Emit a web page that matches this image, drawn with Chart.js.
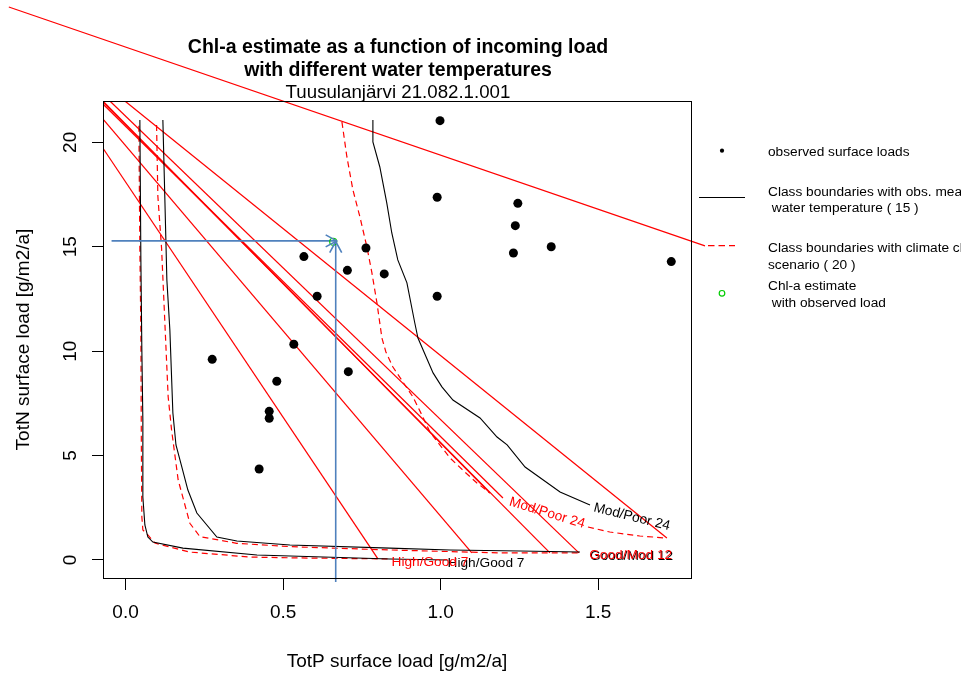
<!DOCTYPE html>
<html><head><meta charset="utf-8">
<script src="https://cdn.jsdelivr.net/npm/chart.js@4.4.1/dist/chart.umd.min.js"></script>
<style>html,body{margin:0;padding:0;background:#fff;}canvas{display:block;}</style>
</head><body>
<canvas id="c" width="961" height="678"></canvas>
<script>
const FONT = '"Liberation Sans", Arial, sans-serif';

// ---- texts ----
const titleLines = ['Chl-a estimate as a function of incoming load', 'with different water temperatures'];
const subtitle = 'Tuusulanjärvi 21.082.1.001';
const xTitle = 'TotP surface load [g/m2/a]';
const yTitle = 'TotN surface load [g/m2/a]';

// ---- axes ----
const xTicks = [0, 0.5, 1, 1.5];
const xTickLabels = ['0.0', '0.5', '1.0', '1.5'];
const yTicks = [0, 5, 10, 15, 20];
const yTickLabels = ['0', '5', '10', '15', '20'];
const xRange = [-0.0716, 1.7946];
const yRange = [-0.862, 21.98];

// ---- observed surface loads ----
const obsP = [0.998, 0.989, 1.245, 1.237, 1.231, 1.351, 1.732, 0.989, 0.763, 0.566, 0.704, 0.821, 0.608, 0.275, 0.534, 0.707, 0.480, 0.456, 0.456, 0.424];
const obsN = [21.04, 17.37, 17.08, 16.01, 14.70, 15.00, 14.29, 12.63, 14.94, 14.53, 13.87, 13.70, 12.63, 9.61, 10.33, 9.02, 8.56, 7.12, 6.79, 4.36];

// ---- Chl-a estimate with observed load ----
const estP = [0.659];
const estN = [15.24];

// ---- class boundaries, observed mean water temperature (15) ----
const hgObsP = [0.0454, 0.0486, 0.0517, 0.0549, 0.0549, 0.0613, 0.0708, 0.0867, 0.182, 0.417, 0.839, 1.020];
const hgObsN = [21.07, 14.37, 10.06, 6.70, 3.02, 1.68, 1.10, 0.86, 0.57, 0.24, 0.05, 0.00];
const gmObsP = [0.1184, 0.1248, 0.1311, 0.1406, 0.1502, 0.160, 0.1787, 0.1978, 0.2263, 0.2898, 0.3533, 0.5216, 0.839, 1.030, 1.252, 1.442];
const gmObsN = [21.07, 17.24, 13.41, 11.02, 7.04, 5.51, 4.45, 3.35, 2.25, 1.10, 0.91, 0.72, 0.57, 0.48, 0.43, 0.38];
const mpObsP = [0.785, 0.785, 0.807, 0.829, 0.845, 0.864, 0.893, 0.918, 0.928, 0.976, 1.004, 1.039, 1.125, 1.179, 1.211, 1.268, 1.379, 1.474];
const mpObsN = [21.07, 20.02, 18.82, 17.10, 15.66, 14.37, 13.27, 11.35, 10.63, 8.96, 8.29, 7.66, 6.80, 5.89, 5.51, 4.45, 3.26, 2.63];

// ---- class boundaries, climate change scenario (20) ----
const hgScenP = [0.0422, 0.0454, 0.0486, 0.0502, 0.0517, 0.0549, 0.0708, 0.0930, 0.204, 0.395, 0.544, 0.833];
const hgScenN = [20.79, 14.85, 11.02, 5.27, 2.06, 1.44, 1.20, 0.81, 0.38, 0.14, 0.10, 0.05];
const gmScenP = [0.0984, 0.1025, 0.1143, 0.1248, 0.1352, 0.1460, 0.1670, 0.2041, 0.2359, 0.3524, 0.5216, 0.839, 1.188, 1.436];
const gmScenN = [20.83, 17.43, 14.93, 11.34, 7.82, 6.23, 3.83, 1.76, 1.12, 0.80, 0.64, 0.48, 0.34, 0.34];
const mpScenP = [0.6867, 0.7025, 0.7216, 0.7438, 0.7660, 0.7819, 0.7978, 0.8137, 0.8263, 0.8486, 0.8867, 0.9121, 0.9406, 0.9660, 1.0295, 1.0771, 1.1152, 1.1565];
const mpScenN = [20.98, 19.30, 17.72, 16.43, 14.99, 13.75, 12.31, 10.63, 9.96, 9.24, 8.38, 7.81, 6.94, 6.13, 4.89, 4.21, 3.69, 3.21];
const mpScenTailP = [1.4676, 1.537, 1.632, 1.718];
const mpScenTailN = [1.58, 1.34, 1.15, 1.05];

// ---- contour labels ----
const classLabels = ['High/Good 7', 'Good/Mod 12', 'Mod/Poor 24'];
const lblObsP = [1.144, 1.606, 1.607];
const lblObsN = [-0.144, 0.17, 2.06];
const lblObsAngle = [0, 0, 14];
const lblScenP = [0.966, 1.603, 1.338];
const lblScenN = [-0.096, 0.22, 2.25];
const lblScenAngle = [0, 0, 17];

// ---- straight red lines (start/end) ----
const redLineP = [[-0.0721, 1.1565], [-0.0721, 1.1978], [-0.0721, 1.347], [-0.0498, 1.439], [-0.0022, 1.718], [-0.0721, 1.099], [-0.0721, 0.801]];
const redLineN = [[21.98, 3.21], [21.84, 2.97], [21.93, 0.34], [21.98, 0.34], [21.98, 1.05], [21.12, 0.34], [19.73, 0.05]];
const longLineP = [-0.3705, 1.839];
const longLineN = [26.48, 15.04];

// ---- blue arrows (reading the estimate) ----
const arrowHP = [-0.0444, 0.670];
const arrowHN = [15.28, 15.28];
const arrowVP = [0.667, 0.667];
const arrowVN = [-1.05, 15.25];

// ---- legend ----
const legendTexts = [
  ['observed surface loads'],
  ['Class boundaries with obs. mean', ' water temperature ( 15 )'],
  ['Class boundaries with climate change', 'scenario ( 20 )'],
  ['Chl-a estimate', ' with observed load']
];

const RED = '#ff0000', BLUE = '#4f81bd', GREEN = '#00cc00';
const mk = (xs, ys) => xs.map((v, i) => ({x: v, y: ys[i]}));
const lineDs = (xs, ys, color, dash, width, extra) => Object.assign({
  data: mk(xs, ys), showLine: true, borderColor: color, backgroundColor: color,
  borderWidth: width, borderDash: dash, pointRadius: 0, pointHoverRadius: 0,
  tension: 0, fill: false
}, extra || {});

const datasets = [
  {data: mk(estP, estN), pointRadius: 3.5, pointHoverRadius: 3.5, pointBackgroundColor: 'rgba(0,0,0,0)', pointBorderColor: GREEN, pointBorderWidth: 1.2, showLine: false},
  {data: mk(obsP, obsN), pointRadius: 4.5, pointHoverRadius: 4.5, pointBackgroundColor: '#000', pointBorderColor: '#000', pointBorderWidth: 0, showLine: false},
  lineDs(arrowHP, arrowHN, BLUE, [], 1.6, {clip: false}),
  lineDs(arrowVP, arrowVN, BLUE, [], 1.6, {clip: false}),
  lineDs(hgObsP, hgObsN, '#000', [], 1.1),
  lineDs(gmObsP, gmObsN, '#000', [], 1.1),
  lineDs(mpObsP, mpObsN, '#000', [], 1.1),
  lineDs(hgScenP, hgScenN, RED, [6, 4], 1.2),
  lineDs(gmScenP, gmScenN, RED, [6, 4], 1.2),
  lineDs(mpScenP, mpScenN, RED, [6, 4], 1.2),
  lineDs(mpScenTailP, mpScenTailN, RED, [6, 4], 1.2),
  ...redLineP.map((p, i) => lineDs(p, redLineN[i], RED, [], 1.25)),
  lineDs(longLineP, longLineN, RED, [], 1.25, {clip: false})
];

function arrowHead(ctx, tx, ty, dx, dy) {
  const L = 11, W = 6;
  const bx = tx - dx * L, by = ty - dy * L;
  const px = -dy, py = dx;
  ctx.beginPath();
  ctx.moveTo(bx + px * W, by + py * W);
  ctx.lineTo(tx, ty);
  ctx.lineTo(bx - px * W, by - py * W);
  ctx.stroke();
}

function drawLabel(ctx, x, y, text, px, py, ang, color) {
  ctx.save();
  ctx.translate(x.getPixelForValue(px), y.getPixelForValue(py));
  ctx.rotate(ang * Math.PI / 180);
  ctx.fillStyle = color;
  ctx.fillText(text, 0, 0);
  ctx.restore();
}

const decor = {
  id: 'decor',
  afterDatasetsDraw(chart) {
    const {ctx, scales: {x, y}} = chart;
    ctx.save();
    ctx.font = '13.7px ' + FONT;
    ctx.textAlign = 'center';
    ctx.textBaseline = 'middle';
    classLabels.forEach((t, i) => drawLabel(ctx, x, y, t, lblObsP[i], lblObsN[i], lblObsAngle[i], '#000'));
    classLabels.forEach((t, i) => drawLabel(ctx, x, y, t, lblScenP[i], lblScenN[i], lblScenAngle[i], RED));
    ctx.strokeStyle = BLUE;
    ctx.lineWidth = 1.6;
    arrowHead(ctx, x.getPixelForValue(arrowHP[1]), y.getPixelForValue(arrowHN[1]), 1, 0);
    arrowHead(ctx, x.getPixelForValue(arrowVP[1]), y.getPixelForValue(arrowVN[1]), 0, -1);
    ctx.restore();
  },
  afterDraw(chart) {
    const {ctx, chartArea: a} = chart;
    ctx.save();
    ctx.strokeStyle = '#000';
    ctx.lineWidth = 1;
    ctx.strokeRect(Math.round(a.left) + 0.5, Math.round(a.top) + 0.5, Math.round(a.right - a.left), Math.round(a.bottom - a.top));
    const cx = (a.left + a.right) / 2 + 1;
    ctx.fillStyle = '#000';
    ctx.textAlign = 'center';
    ctx.textBaseline = 'alphabetic';
    ctx.font = 'bold 19.5px ' + FONT;
    ctx.fillText(titleLines[0], cx, a.top - 48);
    ctx.fillText(titleLines[1], cx, a.top - 25);
    ctx.font = '18.7px ' + FONT;
    ctx.fillText(subtitle, cx, a.top - 3);
    const lx0 = a.right + 8, lx1 = a.right + 54, mx = a.right + 31, tx = a.right + 77;
    ctx.textAlign = 'left';
    ctx.textBaseline = 'middle';
    ctx.font = '13.7px ' + FONT;
    ctx.beginPath(); ctx.arc(mx, a.top + 49.7, 2.1, 0, Math.PI * 2); ctx.fillStyle = '#000'; ctx.fill();
    ctx.fillText(legendTexts[0][0], tx, a.top + 51);
    ctx.beginPath(); ctx.moveTo(lx0, a.top + 96.5); ctx.lineTo(lx1, a.top + 96.5); ctx.strokeStyle = '#000'; ctx.lineWidth = 1; ctx.stroke();
    ctx.fillText(legendTexts[1][0], tx, a.top + 91);
    ctx.fillText(legendTexts[1][1], tx, a.top + 107.5);
    ctx.save();
    ctx.setLineDash([6.5, 4]);
    ctx.beginPath(); ctx.moveTo(a.right + 17, a.top + 144.7); ctx.lineTo(a.right + 44, a.top + 144.7); ctx.strokeStyle = RED; ctx.lineWidth = 1.2; ctx.stroke();
    ctx.restore();
    ctx.fillText(legendTexts[2][0], tx, a.top + 147.5);
    ctx.fillText(legendTexts[2][1], tx, a.top + 164);
    ctx.beginPath(); ctx.arc(mx, a.top + 192.3, 2.8, 0, Math.PI * 2); ctx.strokeStyle = GREEN; ctx.lineWidth = 1.2; ctx.stroke();
    ctx.fillText(legendTexts[3][0], tx, a.top + 185);
    ctx.fillText(legendTexts[3][1], tx, a.top + 202.3);
    ctx.restore();
  }
};

new Chart(document.getElementById('c'), {
  type: 'scatter',
  data: {datasets},
  options: {
    responsive: false,
    animation: false,
    devicePixelRatio: 1,
    layout: {autoPadding: false, padding: {left: 0, top: 101, right: 270, bottom: 0}},
    plugins: {legend: {display: false}, tooltip: {enabled: false}, title: {display: false}},
    events: [],
    scales: {
      x: {
        type: 'linear', min: xRange[0], max: xRange[1],
        afterBuildTicks: ax => { ax.ticks = xTicks.map(v => ({value: v})); },
        afterFit: ax => { ax.height = 100; },
        grid: {display: true, drawOnChartArea: false, drawTicks: true, tickLength: 12, color: '#000', lineWidth: 1},
        border: {display: false},
        ticks: {font: {family: FONT, size: 19}, color: '#000', padding: 11, minRotation: 0, maxRotation: 0,
          callback: (v, i) => xTickLabels[i]},
        title: {display: true, text: xTitle, font: {family: FONT, size: 19}, color: '#000', padding: {top: 0, bottom: 5}}
      },
      y: {
        type: 'linear', min: yRange[0], max: yRange[1],
        afterBuildTicks: ax => { ax.ticks = yTicks.map(v => ({value: v})); },
        afterFit: ax => { ax.width = 103; },
        grid: {display: true, drawOnChartArea: false, drawTicks: true, tickLength: 11, color: '#000', lineWidth: 1},
        border: {display: false},
        ticks: {font: {family: FONT, size: 19}, color: '#000', padding: 11, minRotation: 90, maxRotation: 90, crossAlign: 'center',
          callback: (v, i) => yTickLabels[i]},
        title: {display: true, text: yTitle, font: {family: FONT, size: 19}, color: '#000', padding: {top: 12, bottom: 0}}
      }
    }
  },
  plugins: [decor]
});
</script>
</body></html>
